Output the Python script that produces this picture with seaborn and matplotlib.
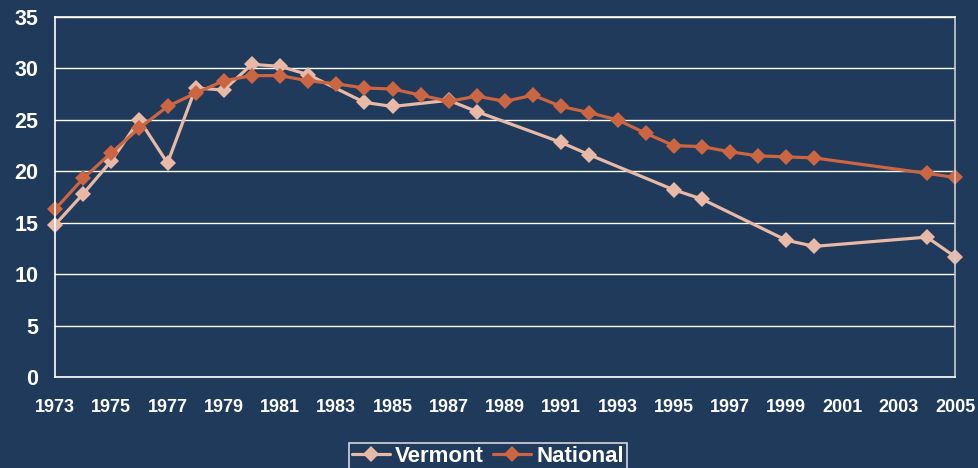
import pandas as pd
import seaborn as sns
from matplotlib import pyplot as plt

# values
vermont_years = [1973, 1974, 1975, 1976, 1977, 1978, 1979, 1980, 1981, 1982,
                 1984, 1985, 1987, 1988, 1991, 1992, 1995, 1996, 1999, 2000,
                 2004, 2005]
vermont_values = [14.8, 17.8, 21.0, 25.0, 20.8, 28.1, 27.9, 30.4, 30.2, 29.4,
                  26.7, 26.3, 26.9, 25.8, 22.8, 21.6, 18.2, 17.3, 13.3, 12.7,
                  13.6, 11.7]

national_years = [1973, 1974, 1975, 1976, 1977, 1978, 1979, 1980, 1981, 1982,
                  1983, 1984, 1985, 1986, 1987, 1988, 1989, 1990, 1991, 1992,
                  1993, 1994, 1995, 1996, 1997, 1998, 1999, 2000, 2004, 2005]
national_values = [16.3, 19.3, 21.8, 24.2, 26.3, 27.6, 28.8, 29.3, 29.3, 28.8,
                   28.5, 28.1, 28.0, 27.4, 26.8, 27.3, 26.8, 27.4, 26.3, 25.7,
                   25.0, 23.7, 22.5, 22.4, 21.9, 21.5, 21.4, 21.3, 19.8, 19.4]

x_ticks = list(range(1973, 2006, 2))
y_ticks = list(range(0, 36, 5))

bg = '#1f3a5a'
colors = {'Vermont': '#e8b9a7', 'National': '#cc6541'}

sns.set_theme(style="dark")
plt.rcParams['font.family'] = ['Liberation Sans', 'DejaVu Sans']
plt.rcParams['font.weight'] = 'bold'

df = pd.concat([
    pd.DataFrame({'year': vermont_years, 'value': vermont_values, 'series': 'Vermont'}),
    pd.DataFrame({'year': national_years, 'value': national_values, 'series': 'National'}),
])

fig = plt.figure(figsize=(9.79, 4.68), dpi=100, facecolor=bg)
ax = fig.add_axes([55 / 979, 1 - 377 / 468, 900 / 979, 360 / 468])
ax.set_facecolor(bg)

sns.lineplot(data=df, x='year', y='value', hue='series', hue_order=['Vermont', 'National'],
             palette=colors, marker='D', markersize=8.5, markeredgewidth=0,
             linewidth=2.3, ax=ax, legend=False, clip_on=False)

ax.set_xlim(1973, 2005)
ax.set_ylim(0, 35)
ax.set_xticks(x_ticks)
ax.set_yticks(y_ticks)
ax.set_xlabel('')
ax.set_ylabel('')
ax.grid(axis='y', color='white', linewidth=1)
ax.grid(axis='x', visible=False)
ax.set_axisbelow(True)
for side in ['left', 'bottom', 'right', 'top']:
    ax.spines[side].set_color('white')
    ax.spines[side].set_linewidth(1.2)
ax.spines['right'].set_color('#c8ccd2')
ax.tick_params(axis='x', length=0, pad=16, labelsize=13, labelcolor='white')
ax.tick_params(axis='y', length=0, pad=12, labelsize=15.5, labelcolor='white')

handles = [plt.Line2D([], [], color=colors[k], marker='D', markersize=8.5,
                      markeredgewidth=0, linewidth=2.3) for k in ['Vermont', 'National']]
leg = fig.legend(handles, ['Vermont', 'National'], loc='upper center',
                 bbox_to_anchor=(488 / 979, 1 - 432 / 468), ncol=2, frameon=True,
                 fancybox=False, facecolor=bg, edgecolor='white', fontsize=16,
                 handlelength=1.7, handletextpad=0.25, columnspacing=0.4,
                 borderpad=0.12, labelcolor='white')
leg.get_frame().set_linewidth(1.2)

fig.savefig('out.png', dpi=100, facecolor=bg)
